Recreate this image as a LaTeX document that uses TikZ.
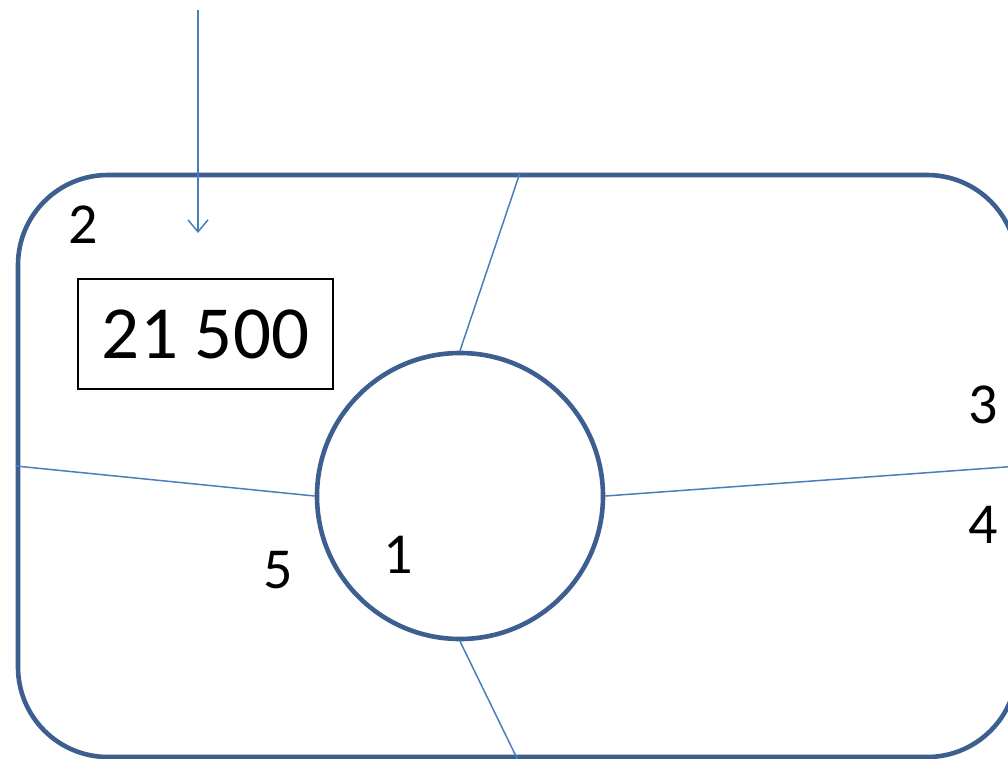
\documentclass[tikz,border=0pt]{standalone}
\usepackage{fontspec}
\setmainfont{Carlito}
\usetikzlibrary{arrows.meta}
\definecolor{frameblue}{RGB}{60,95,143}
\definecolor{lineblue}{RGB}{74,126,187}
\tikzset{
  thickborder/.style={draw=frameblue, line width=4.6pt},
  thinline/.style={draw=lineblue, line width=1.5pt},
  lbl/.style={inner sep=0pt, font=\fontsize{58}{60}\selectfont},
}
\begin{document}
\begin{tikzpicture}[x=1pt, y=-1pt]
\useasboundingbox (0,0) rectangle (1008,758);
\clip (0,0) rectangle (1008,758);
\fill[white] (0,0) rectangle (1008,758);
\node[thickborder, rounded corners=90pt, minimum width=999pt, minimum height=582pt, inner sep=0pt] (frame) at (517.5,466) {};
\node[thickborder, circle, minimum size=286pt, inner sep=0pt] (c) at (460,496) {};
\draw[thinline] (c.north) -- ([xshift=2.5pt]frame.north);
\draw[thinline] (c.west) -- (frame.west);
\draw[thinline] (c.east) -- (frame.east);
\draw[thinline] (c.south) -- (frame.south);
\node[draw=black, line width=1.5pt, minimum width=255pt, minimum height=110pt, inner sep=0pt, font=\fontsize{75}{77}\selectfont] (box) at (205.5,334) {21 500};
\coordinate (src) at (198,10);
\coordinate (tip) at (198,233);
\draw[thinline, -{Straight Barb[length=12pt, width=20pt, line width=1.5pt]}] (src) -- (tip);
\node[lbl] (l2) at (83,225) {2};
\node[lbl] (l3) at (983,405) {3};
\node[lbl] (l4) at (983,525) {4};
\node[lbl] (l5) at (278,570) {5};
\node[lbl] (l1) at (398,555) {1};
\end{tikzpicture}
\end{document}
